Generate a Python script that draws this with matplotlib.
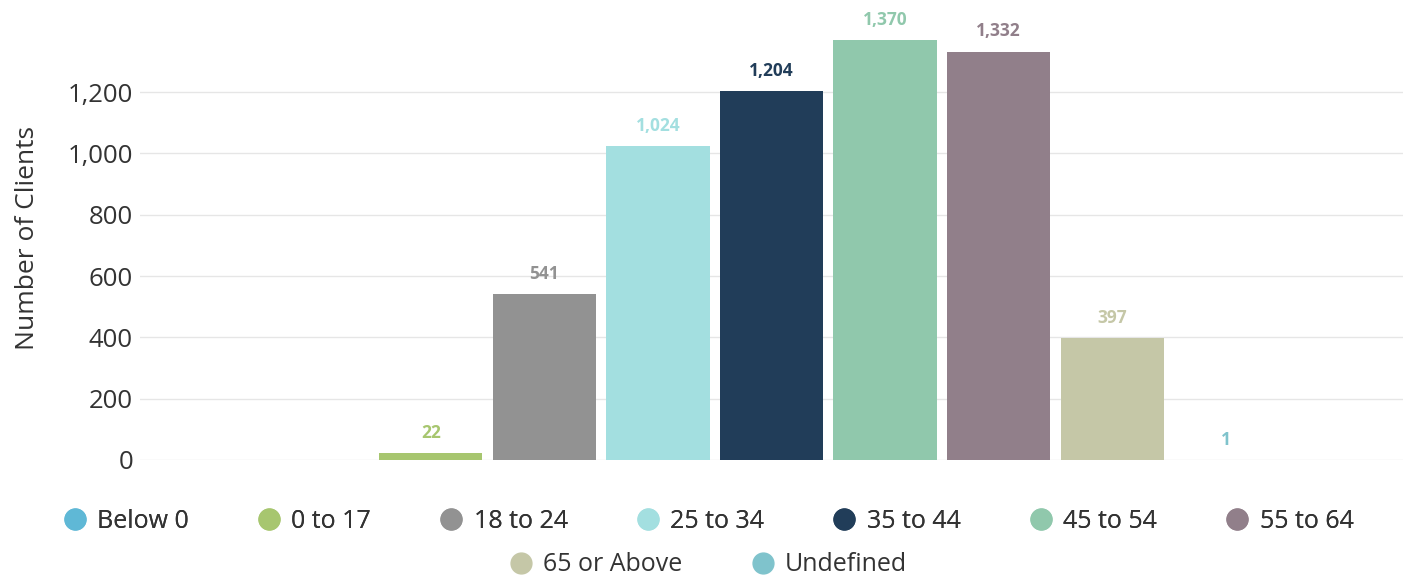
import matplotlib.pyplot as plt
from matplotlib.lines import Line2D
from matplotlib.ticker import FuncFormatter

# age group counts
age_groups = ['Below 0', '0 to 17', '18 to 24', '25 to 34', '35 to 44',
              '45 to 54', '55 to 64', '65 or Above', 'Undefined']
clients = [0, 22, 541, 1024, 1204, 1370, 1332, 397, 1]
colors = ['#5fb8d6', '#a7c66f', '#929292', '#a3dfe0', '#213d59',
          '#90c8ac', '#917f8a', '#c5c7a7', '#7fc3cc']
y_ticks = [0, 200, 400, 600, 800, 1000, 1200]

plt.rcParams['font.family'] = ['Open Sans', 'DejaVu Sans']

fig = plt.figure(figsize=(14.13, 5.77), dpi=100)
ax = fig.add_axes([0.0991, 0.2028, 0.8939, 0.771])

x = list(range(len(age_groups)))
ax.bar(x, clients, width=0.91, color=colors, zorder=3)

# data labels above bars (zero values are not labelled)
for xi, val, col in zip(x, clients, colors):
    if val == 0:
        continue
    ax.annotate(f'{val:,}', (xi, val), xytext=(0, 8), textcoords='offset points',
                ha='center', va='bottom', fontsize=12.5, fontweight='bold', color=col)

ax.set_xlim(-1.56, 9.56)
ax.set_ylim(0, 1451)
ax.set_yticks(y_ticks)
ax.yaxis.set_major_formatter(FuncFormatter(lambda v, p: f'{int(v):,}'))
ax.tick_params(axis='y', length=0, labelsize=18.5, labelcolor='#333333', pad=5)
ax.set_xticks([])
ax.grid(axis='y', color='#e6e6e6', linewidth=1, zorder=0)
for s in ax.spines.values():
    s.set_visible(False)
ax.set_ylabel('Number of Clients', fontsize=19, color='#333333', labelpad=20)

handles = [Line2D([], [], marker='o', linestyle='', markersize=15,
                  markerfacecolor=c, markeredgecolor=c) for c in colors]

leg1 = fig.legend(handles[:7], age_groups[:7], loc='center', bbox_to_anchor=(0.5, 0.097),
                  ncol=7, frameon=False, fontsize=18, handletextpad=0.3,
                  columnspacing=2.6, handlelength=1.2, labelcolor='#333333')
fig.add_artist(leg1)
fig.legend(handles[7:], age_groups[7:], loc='center', bbox_to_anchor=(0.5, 0.021),
           ncol=2, frameon=False, fontsize=18, handletextpad=0.3,
           columnspacing=2.6, handlelength=1.2, labelcolor='#333333')

fig.savefig('out.png', dpi=100)
